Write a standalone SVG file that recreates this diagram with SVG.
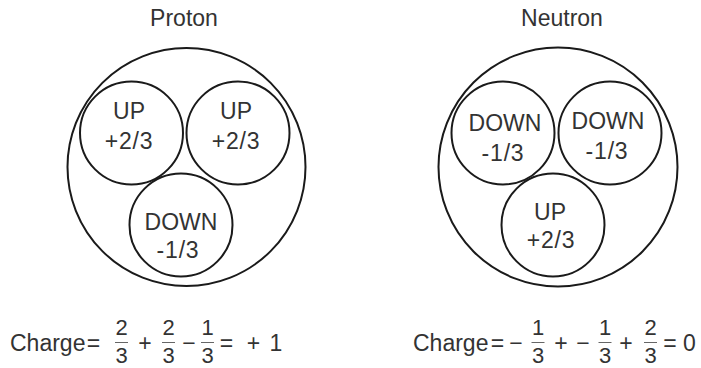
<svg xmlns="http://www.w3.org/2000/svg" width="701" height="368" viewBox="0 0 701 368">
<style>
text{font-family:"Liberation Sans",Arial,Helvetica,sans-serif;fill:#333;}
.title{font-size:23px;text-anchor:middle;}
.q{font-size:23px;text-anchor:middle;}
.n{letter-spacing:0.8px;}
.eq{font-size:23px;}
.fr{font-size:22px;text-anchor:middle;}
.m{text-anchor:middle;}
.outer,.inner{fill:none;stroke:#1a1a1a;stroke-width:2;}
.bar{stroke:#666;stroke-width:1;}
</style>
<rect width="701" height="368" fill="#fff"/>

<g id="proton">
  <text class="title" x="184" y="26">Proton</text>
  <circle class="outer" cx="186.5" cy="167" r="119"/>
  <g id="proton-up1">
    <circle class="inner" cx="131.5" cy="133" r="51.5"/>
    <text class="q" x="129" y="119">UP</text>
    <text class="q n" x="129" y="149">+2/3</text>
  </g>
  <g id="proton-up2">
    <circle class="inner" cx="238" cy="133" r="51.5"/>
    <text class="q" x="236" y="119">UP</text>
    <text class="q n" x="236" y="149">+2/3</text>
  </g>
  <g id="proton-down">
    <circle class="inner" cx="181" cy="225" r="51.5"/>
    <text class="q" x="181" y="230">DOWN</text>
    <text class="q n" x="178" y="258">-1/3</text>
  </g>
</g>

<g id="neutron">
  <text class="title" x="562" y="26">Neutron</text>
  <circle class="outer" cx="558" cy="167" r="119.5"/>
  <g id="neutron-down1">
    <circle class="inner" cx="503" cy="133" r="51.5"/>
    <text class="q" x="505" y="131">DOWN</text>
    <text class="q n" x="503" y="161">-1/3</text>
  </g>
  <g id="neutron-down2">
    <circle class="inner" cx="610" cy="133" r="51.5"/>
    <text class="q" x="608" y="129">DOWN</text>
    <text class="q n" x="607" y="159">-1/3</text>
  </g>
  <g id="neutron-up">
    <circle class="inner" cx="553" cy="225" r="51.5"/>
    <text class="q" x="550" y="220">UP</text>
    <text class="q n" x="551" y="248">+2/3</text>
  </g>
</g>

<g id="proton-charge">
  <text class="eq" x="10" y="351">Charge</text>
  <text class="eq m" x="93.5" y="351">=</text>
  <text class="fr" x="121.5" y="335">2</text>
  <line class="bar" x1="115" y1="342.5" x2="128" y2="342.5"/>
  <text class="fr" x="121.5" y="363">3</text>
  <text class="eq m" x="145" y="351">+</text>
  <text class="fr" x="168.5" y="335">2</text>
  <line class="bar" x1="162" y1="342.5" x2="175" y2="342.5"/>
  <text class="fr" x="168.5" y="363">3</text>
  <text class="eq m" x="189" y="351">−</text>
  <text class="fr" x="207.5" y="335">1</text>
  <line class="bar" x1="201" y1="342.5" x2="214" y2="342.5"/>
  <text class="fr" x="207.5" y="363">3</text>
  <text class="eq m" x="226.5" y="351">=</text>
  <text class="eq m" x="253.5" y="351">+</text>
  <text class="eq m" x="276" y="351">1</text>
</g>

<g id="neutron-charge">
  <text class="eq" x="413" y="351">Charge</text>
  <text class="eq m" x="497.5" y="351">=</text>
  <text class="eq m" x="516" y="351">−</text>
  <text class="fr" x="538" y="335">1</text>
  <line class="bar" x1="531.5" y1="342.5" x2="544.5" y2="342.5"/>
  <text class="fr" x="538" y="363">3</text>
  <text class="eq m" x="561" y="351">+</text>
  <text class="eq m" x="583" y="351">−</text>
  <text class="fr" x="605" y="335">1</text>
  <line class="bar" x1="598.5" y1="342.5" x2="611.5" y2="342.5"/>
  <text class="fr" x="605" y="363">3</text>
  <text class="eq m" x="626" y="351">+</text>
  <text class="fr" x="650.5" y="335">2</text>
  <line class="bar" x1="644" y1="342.5" x2="657" y2="342.5"/>
  <text class="fr" x="650.5" y="363">3</text>
  <text class="eq m" x="670" y="351">=</text>
  <text class="eq m" x="689.5" y="351">0</text>
</g>
</svg>
